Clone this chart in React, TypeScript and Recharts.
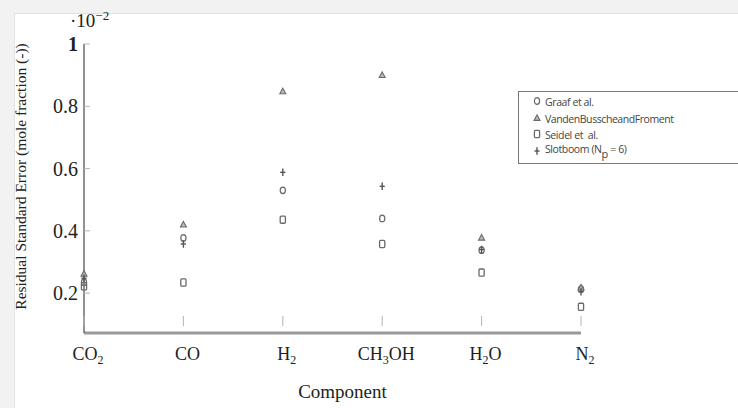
// residual standard error per component, four kinetic models
import { Scatter, ScatterChart, XAxis, YAxis } from "recharts";

const components = ["CO2", "CO", "H2", "CH3OH", "H2O", "N2"];
const graaf = [0.235, 0.377, 0.53, 0.44, 0.338, 0.213];
const vandenBussche = [0.262, 0.42, 0.848, 0.9, 0.378, 0.218];
const seidel = [0.222, 0.234, 0.436, 0.358, 0.266, 0.156];
const slotboom = [0.248, 0.358, 0.588, 0.543, 0.34, 0.205];
const yTicks = [0.2, 0.4, 0.6, 0.8, 1];

const serif = "'Liberation Serif', 'Times New Roman', serif";
const markColor = "#6a6a6a";

const toPoints = (vals: number[]) => vals.map((v, i) => ({ x: i, y: v }));

// small open markers like the original figure
function Circle({ cx, cy }: any) {
  return <ellipse cx={cx} cy={cy} rx={2.6} ry={3.3} fill="none" stroke={markColor} strokeWidth={1.2} />;
}
function Triangle({ cx, cy }: any) {
  return (
    <polygon
      points={`${cx},${cy - 3.2} ${cx + 3},${cy + 2.4} ${cx - 3},${cy + 2.4}`}
      fill="#bbb"
      stroke={markColor}
      strokeWidth={1.1}
    />
  );
}
function Square({ cx, cy }: any) {
  return <rect x={cx - 2.6} y={cy - 3.6} width={5.2} height={7.2} rx={1} fill="none" stroke={markColor} strokeWidth={1.3} />;
}
function Plus({ cx, cy }: any) {
  return (
    <g stroke="#555" strokeWidth={1.4}>
      <line x1={cx} x2={cx} y1={cy - 3.8} y2={cy + 3.8} />
      <line x1={cx - 2.6} x2={cx + 2.6} y1={cy} y2={cy} />
    </g>
  );
}

// digits in chemical formulas become subscripts
function Formula({ text }: { text: string }) {
  const parts = text.split(/(\d)/).filter((p) => p !== "");
  return (
    <>
      {parts.map((p, i) =>
        /\d/.test(p) ? (
          <tspan key={i} fontSize={12} dy={4}>
            {p}
          </tspan>
        ) : (
          <tspan key={i} dy={i > 0 ? -4 : 0}>
            {p}
          </tspan>
        )
      )}
    </>
  );
}

function XTick({ x, y, payload }: any) {
  return (
    <g>
      <line x1={x} x2={x} y1={y - 17} y2={y - 7} stroke="#b5b5b5" strokeWidth={1} />
      <text x={x + 4} y={y + 27} textAnchor="middle" fontFamily={serif} fontSize={18} fill="#222">
        <Formula text={components[payload.value]} />
      </text>
    </g>
  );
}

function YTick({ x, y, payload }: any) {
  return (
    <g>
      <line x1={x + 5} x2={x + 11} y1={y} y2={y} stroke="#b5b5b5" strokeWidth={1} />
      <text
        x={x - 1}
        y={y + 7}
        textAnchor="end"
        fontFamily={serif}
        fontSize={20}
        fontWeight={payload.value === 1 ? 700 : 400}
        fill="#222"
      >
        {payload.value}
      </text>
    </g>
  );
}

const legendItems = [
  { name: "Graaf et al.", Shape: Circle, tight: false },
  { name: "Vanden Bussche and Froment", Shape: Triangle, tight: true },
  { name: "Seidel et\u00a0 al.", Shape: Square, tight: false },
  { name: "Slotboom", Shape: Plus, tight: false },
];

function ChartLegend() {
  return (
    <div
      style={{
        position: "absolute",
        left: 518,
        top: 91,
        width: 260,
        height: 73,
        border: "1.5px solid #777",
        background: "#fff",
        fontFamily: "'Open Sans', sans-serif",
        fontSize: 10.5,
        color: "#444",
        letterSpacing: -0.4,
        boxSizing: "border-box",
      }}
    >
      {legendItems.map(({ name, Shape, tight }, i) => (
        <div
          key={name}
          style={{
            position: "absolute",
            left: 13,
            top: 2 + i * 16.5,
            height: 16,
            display: "flex",
            alignItems: "center",
            wordSpacing: tight ? -2.5 : 0,
          }}
        >
          <svg width={10} height={12} style={{ marginRight: 3 }}>
            <Shape cx={5} cy={5} />
          </svg>
          <span>
            {name}
            {name === "Slotboom" && (
              <>
                {" "}(N<sub style={{ fontSize: 11, verticalAlign: -5 }}>p</sub> = 6)
              </>
            )}
          </span>
        </div>
      ))}
    </div>
  );
}

export default function App() {
  return (
    <div style={{ position: "absolute", left: 0, top: 0, width: 738, height: 408, overflow: "hidden", background: "#f2f2f2" }}>
      <div
        style={{
          position: "absolute",
          left: 14,
          top: 13,
          right: 0,
          bottom: 0,
          background: "#fff",
          borderLeft: "1px solid #e2e2e2",
          borderTop: "1px solid #e2e2e2",
        }}
      />
      <div style={{ position: "absolute", left: 0, top: 0 }}>
        <ScatterChart width={738} height={408} margin={{ top: 44, right: 157, bottom: 45, left: 24 }}>
          <XAxis
            type="number"
            dataKey="x"
            domain={[0, 5]}
            ticks={[0, 1, 2, 3, 4, 5]}
            height={30}
            axisLine={{ stroke: "#9a9a9a", strokeWidth: 3 }}
            tickLine={false}
            tickSize={0}
            tickMargin={0}
            tick={<XTick />}
            label={{
              content: ({ viewBox }: any) => (
                <text
                  x={viewBox.x + viewBox.width / 2 + 10}
                  y={viewBox.y + 65}
                  textAnchor="middle"
                  fontFamily={serif}
                  fontSize={19}
                  fill="#222"
                >
                  Component
                </text>
              ),
            }}
          />
          <YAxis
            type="number"
            dataKey="y"
            domain={[0.072, 1]}
            ticks={yTicks}
            width={60}
            axisLine={{ stroke: "#555", strokeWidth: 1.3 }}
            tickLine={false}
            tickSize={0}
            tickMargin={5}
            tick={<YTick />}
            label={{
              content: ({ viewBox }: any) => (
                <text
                  transform={`translate(${viewBox.x + 2}, ${viewBox.y + viewBox.height / 2 - 12}) rotate(-90)`}
                  textAnchor="middle"
                  fontFamily={serif}
                  fontSize={15.5}
                  fill="#222"
                >
                  Residual Standard Error (mole fraction (-))
                </text>
              ),
            }}
          />
          <Scatter data={toPoints(seidel)} shape={<Square />} isAnimationActive={false} />
          <Scatter data={toPoints(graaf)} shape={<Circle />} isAnimationActive={false} />
          <Scatter data={toPoints(vandenBussche)} shape={<Triangle />} isAnimationActive={false} />
          <Scatter data={toPoints(slotboom)} shape={<Plus />} isAnimationActive={false} />
        </ScatterChart>
      </div>
      <div style={{ position: "absolute", left: 70, top: 8, fontFamily: serif, fontSize: 19, color: "#222" }}>
        ·10<sup style={{ fontSize: 13, verticalAlign: 7 }}>−2</sup>
      </div>
      <ChartLegend />
    </div>
  );
}
